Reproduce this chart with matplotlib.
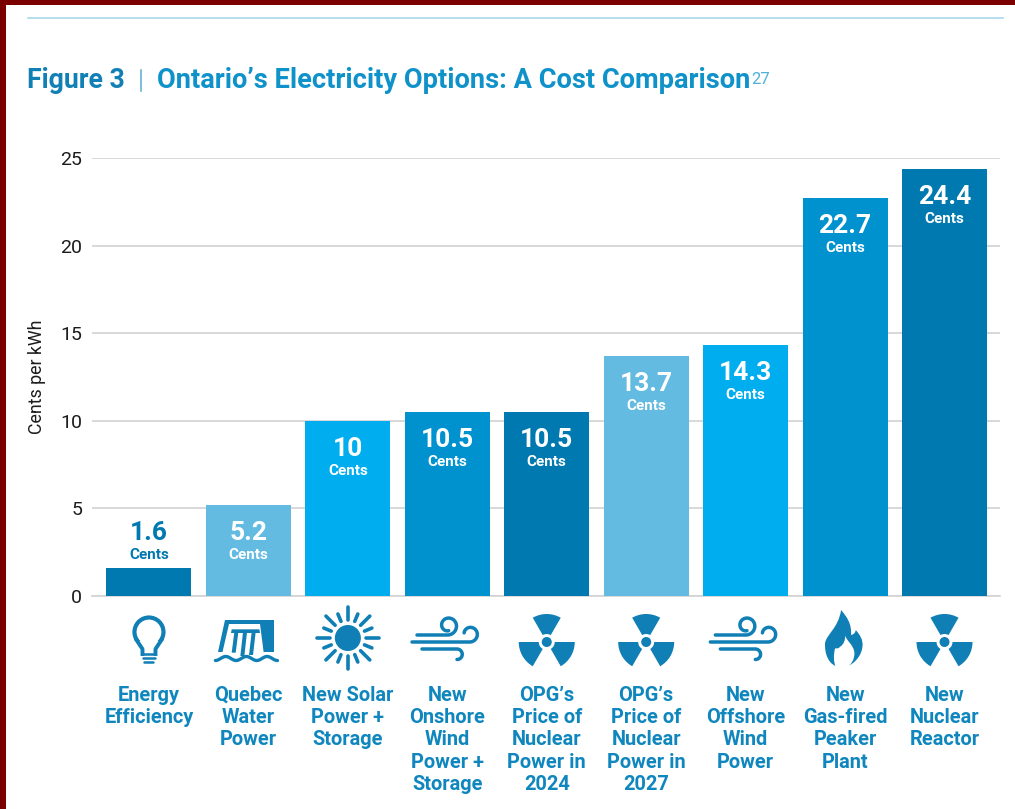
import numpy as np
import matplotlib
matplotlib.use('Agg')
import matplotlib.pyplot as plt
from matplotlib.patches import Circle, Wedge, Polygon, PathPatch, Rectangle
from matplotlib.path import Path

plt.rcParams['font.family'] = ['Roboto', 'DejaVu Sans']

categories = ['Energy\nEfficiency', 'Quebec\nWater\nPower', 'New Solar\nPower +\nStorage',
              'New\nOnshore\nWind\nPower +\nStorage', "OPG’s\nPrice of\nNuclear\nPower in\n2024",
              "OPG’s\nPrice of\nNuclear\nPower in\n2027", 'New\nOffshore\nWind\nPower',
              'New\nGas-fired\nPeaker\nPlant', 'New\nNuclear\nReactor']
values = [1.6, 5.2, 10, 10.5, 10.5, 13.7, 14.3, 22.7, 24.4]
value_labels = ['1.6', '5.2', '10', '10.5', '10.5', '13.7', '14.3', '22.7', '24.4']
icons = ['bulb', 'dam', 'sun', 'wind', 'nuclear', 'nuclear', 'wind', 'flame', 'nuclear']
yticks = [0, 5, 10, 15, 20, 25]

DARK = '#0079b0'
MID = '#0091cf'
LIGHT = '#63bbe2'
BRIGHT = '#00aeef'
bar_colors = [DARK, LIGHT, BRIGHT, MID, DARK, LIGHT, BRIGHT, MID, DARK]
ICON = '#0f7fb5'

W, H = 1015, 809
fig = plt.figure(figsize=(W / 100, H / 100), dpi=100)
ax = fig.add_axes([92 / W, (H - 596) / H, 908 / W, 438 / H])

x = np.arange(len(values))
ax.bar(x, values, width=0.855, color=bar_colors, zorder=3)
ax.set_xlim(-0.573, 8.558)
ax.set_ylim(0, 25)
ax.set_yticks(yticks)
ax.grid(axis='y', color='#d2d2d2', linewidth=1.2, zorder=0)
ax.set_axisbelow(True)
for s in ['top', 'right', 'left']:
    ax.spines[s].set_visible(False)
ax.spines['bottom'].set_color('#d2d2d2')
ax.spines['bottom'].set_linewidth(1.2)
ax.tick_params(axis='y', length=0, pad=7, labelsize=14, labelcolor='#1c1c1c')
ax.set_xticks(x, categories, fontsize=14.4, fontweight='bold', color='#0f86bd', linespacing=1.23)
ax.tick_params(axis='x', length=0, pad=64.5)
ax.set_ylabel('Cents per kWh', fontsize=12.8, color='#1c1c1c')
ax.yaxis.set_label_coords((46 - 92) / 908, 0.5)

# value labels sit inside the bar, except the first which is too short
for i, (v, lab) in enumerate(zip(values, value_labels)):
    if v < 3:
        col, off1, off2 = DARK, 35, 13
    else:
        col, off1, off2 = 'white', -28, -50
    ax.annotate(lab, (i, v), xytext=(0, off1 * 0.72), textcoords='offset points', ha='center',
                va='center', fontsize=19, fontweight='bold', color=col, zorder=5)
    ax.annotate('Cents', (i, v), xytext=(0, off2 * 0.72), textcoords='offset points', ha='center',
                va='center', fontsize=11, fontweight='bold', color=col, zorder=5)

# overlay in pixel units for the border, title and icons
ov = fig.add_axes([0, 0, 1, 1], zorder=10)
ov.set_xlim(0, W)
ov.set_ylim(H, 0)
ov.axis('off')
ov.patch.set_alpha(0)

ov.add_patch(Rectangle((0, 0), W, 5, color='#7a0000', lw=0))
ov.add_patch(Rectangle((0, 0), 6, H, color='#7a0000', lw=0))
ov.plot([28, 1003], [17.5, 17.5], color='#a9d8ec', lw=1.2)

ov.text(27, 88, 'Figure 3', fontsize=19.2, fontweight='bold', color='#1180b5', va='baseline')
ov.plot([141, 141], [70, 91], color='#5aa9cf', lw=1.1)
ov.text(157, 88, 'Ontario’s Electricity Options: A Cost Comparison', fontsize=19.6, fontweight='bold',
        color='#0f92c9', va='baseline')
ov.text(751, 84, '27', fontsize=12, color='#4fb0d8', va='baseline')


def bulb(cx):
    ov.add_patch(Circle((cx, 632), 14.5, fill=False, ec=ICON, lw=3))
    ov.add_patch(Rectangle((cx - 14, 641), 28, 12, color='white', lw=0, zorder=2))
    ov.plot([cx - 12.5, cx - 6.5, cx - 6.5], [640, 649, 654], color=ICON, lw=2.8, zorder=3)
    ov.plot([cx + 12.5, cx + 6.5, cx + 6.5], [640, 649, 654], color=ICON, lw=2.8, zorder=3)
    for yy, hw in [(654, 6.5), (658, 6), (661.5, 4.5)]:
        ov.plot([cx - hw, cx + hw], [yy, yy], color=ICON, lw=1.8, solid_capstyle='round', zorder=3)


def dam(cx):
    # shapes laid out on a 3x grid, then shifted under the bar
    def pts(lst):
        return [(cx - 43.4 + a / 3, 610 + b / 3) for a, b in lst]

    ov.add_patch(Polygon(pts([(60, 30), (208, 30), (208, 125), (40, 125)]), color=ICON, lw=0))
    ov.add_patch(Polygon(pts([(72, 42), (165, 42), (176, 128), (52, 128)]), color='white', lw=0))
    ov.add_patch(Polygon(pts([(80, 58), (163, 58), (165, 69), (78, 69)]), color=ICON, lw=0))
    for dx, bot in [(0, 128), (26, 138), (52, 135)]:
        ov.add_patch(Polygon(pts([(88 + dx, 66), (100 + dx, 66), (92 + dx, bot), (80 + dx, bot)]), color=ICON, lw=0))
    xs = np.linspace(cx - 33, cx + 29, 80)
    ov.plot(xs, 658.5 + 2 * np.cos((xs - cx + 33) / 62 * 3 * 2 * np.pi), color=ICON, lw=2.4, solid_capstyle='round')


def sun(cx):
    cy = 638
    ov.add_patch(Circle((cx, cy), 13, color=ICON, lw=0))
    for k in range(16):
        a = k * np.pi / 8
        r1, r2 = (18, 31) if k % 2 == 0 else (18, 26)
        ov.plot([cx + r1 * np.cos(a), cx + r2 * np.cos(a)], [cy + r1 * np.sin(a), cy + r2 * np.sin(a)],
                color=ICON, lw=2.6, solid_capstyle='round')


def curl(x0, y0, r, up=True, turns=1.3, shrink=0.4):
    # straight end of a wind line rolling into a shrinking spiral
    t = np.linspace(0, turns * 2 * np.pi, 60)
    rr = r * (1 - shrink * t / t[-1])
    s = -1 if up else 1
    xs = x0 + rr * np.sin(t)
    ys = y0 + s * (r - rr * np.cos(t))
    return xs, ys


def wind(cx):
    kw = dict(color=ICON, lw=2.5, solid_capstyle='round')
    ox = cx - 447.3
    xs, ys = curl(448 + ox, 635, 9.5, True, 1.02, 0.45)
    ov.plot(np.r_[417 + ox, xs], np.r_[635, ys], **kw)
    xs, ys = curl(470 + ox, 642, 8, True, 0.72, 0.25)
    ov.plot(np.r_[412 + ox, xs], np.r_[642, ys], **kw)
    xs, ys = curl(457 + ox, 649, 5.5, False, 0.5, 0.1)
    ov.plot(np.r_[422 + ox, xs], np.r_[649, ys], **kw)


def nuclear(cx):
    cy = 642
    ov.add_patch(Circle((cx, cy), 5, color=ICON, lw=0))
    for mid in [270, 30, 150]:
        ov.add_patch(Wedge((cx, cy), 28, mid - 30, mid + 30, width=20, color=ICON, lw=0))


def flame(cx):
    def pts(lst):
        return [(cx - 40 + a / 3, 605 + b / 3) for a, b in lst]

    M, C, L, Z = Path.MOVETO, Path.CURVE4, Path.LINETO, Path.CLOSEPOLY
    outer = [(108, 15), (125, 35), (140, 55), (138, 90), (148, 88), (152, 80), (152, 75),
             (165, 90), (175, 105), (172, 125), (170, 150), (150, 175), (128, 183),
             (92, 183), (70, 175), (58, 145), (60, 115), (62, 90), (100, 70), (108, 15), (108, 15)]
    codes = [M] + [C] * 12 + [L] + [C] * 6 + [Z]
    ov.add_patch(PathPatch(Path(pts(outer), codes), color=ICON, lw=0))
    inner = [(120, 88), (120, 105), (148, 120), (148, 145), (148, 165), (138, 178), (128, 186),
             (92, 186), (85, 170), (85, 150), (90, 130), (95, 130), (100, 132), (105, 125),
             (115, 120), (122, 105), (120, 88), (120, 88)]
    codes = [M] + [C] * 6 + [L] + [C] * 9 + [Z]
    ov.add_patch(PathPatch(Path(pts(inner), codes), color='white', lw=0))


draw = {'bulb': bulb, 'dam': dam, 'sun': sun, 'wind': wind, 'nuclear': nuclear, 'flame': flame}
for i, name in enumerate(icons):
    # icon sits under its bar
    px = ax.transData.transform((i, 0))[0]
    draw[name](px)

fig.savefig('out.png', dpi=100, facecolor='white')
